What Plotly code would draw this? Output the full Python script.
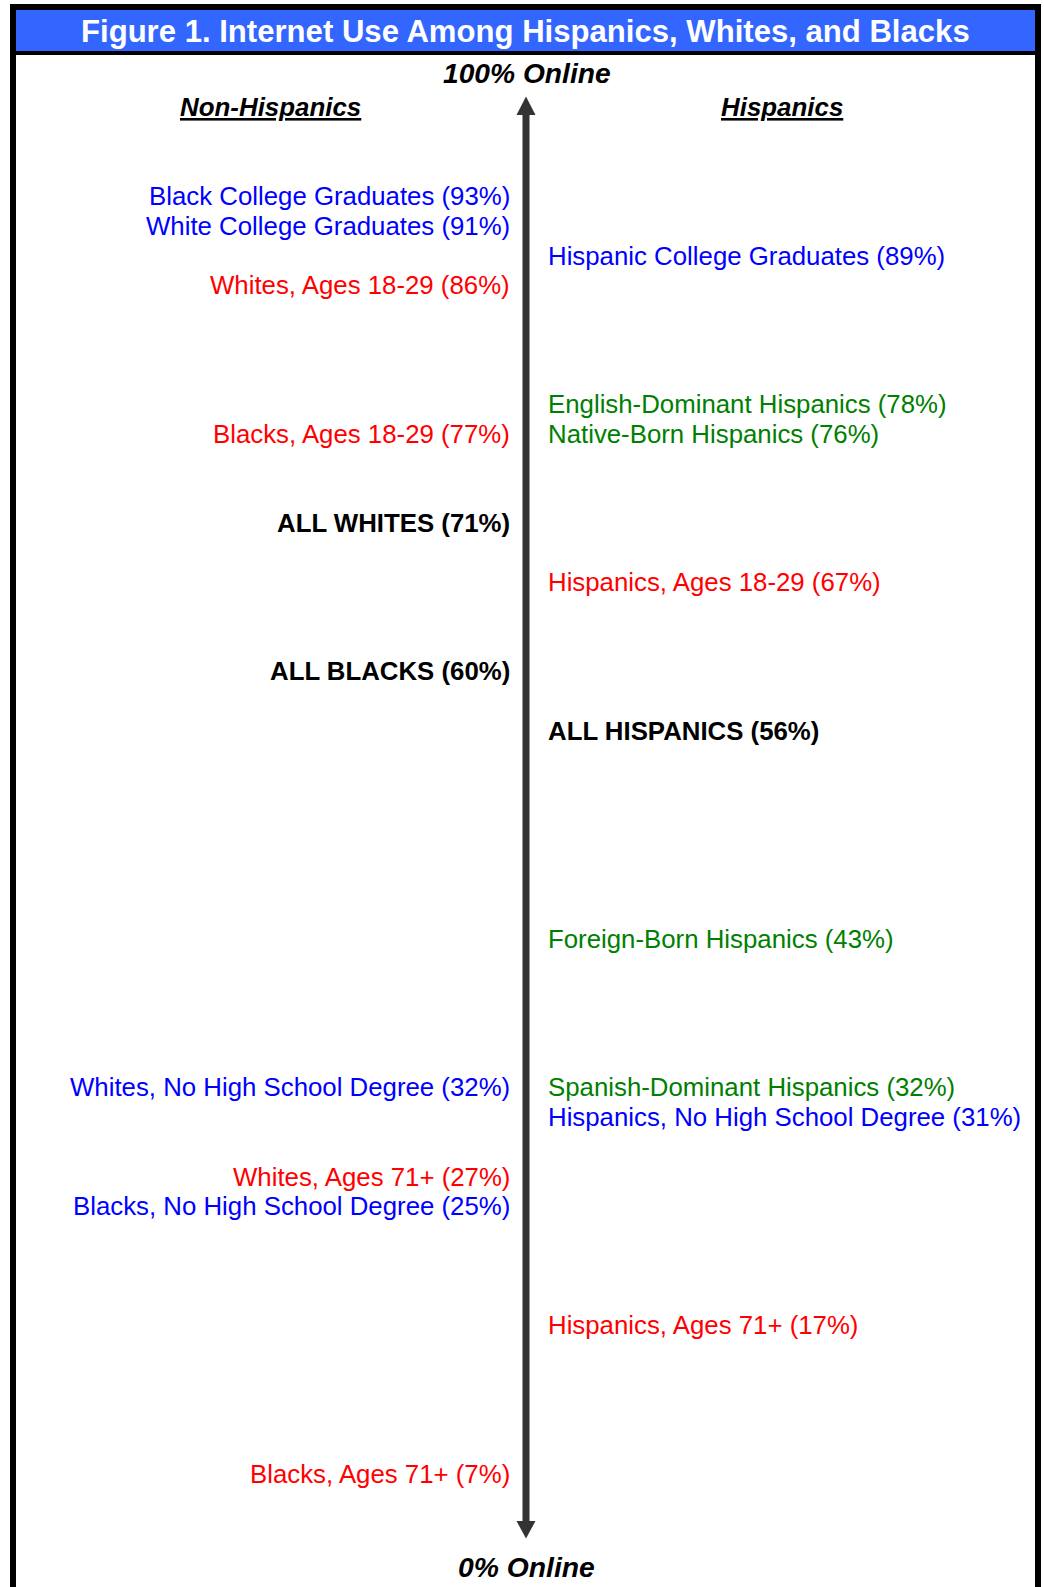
import plotly.graph_objects as go

W, H = 1044, 1587

# ---------------- data ----------------
nonhisp_labels = [
    "Black College Graduates", "White College Graduates", "Whites, Ages 18-29",
    "Blacks, Ages 18-29", "ALL WHITES", "ALL BLACKS",
    "Whites, No High School Degree", "Whites, Ages 71+",
    "Blacks, No High School Degree", "Blacks, Ages 71+",
]
nonhisp_values = [93, 91, 86, 77, 71, 60, 32, 27, 25, 7]
nonhisp_groups = ["education", "education", "age", "age", "all", "all",
                  "education", "age", "education", "age"]

hisp_labels = [
    "Hispanic College Graduates", "English-Dominant Hispanics",
    "Native-Born Hispanics", "Hispanics, Ages 18-29", "ALL HISPANICS",
    "Foreign-Born Hispanics", "Spanish-Dominant Hispanics",
    "Hispanics, No High School Degree", "Hispanics, Ages 71+",
]
hisp_values = [89, 78, 76, 67, 56, 43, 32, 31, 17]
hisp_groups = ["education", "language", "nativity", "age", "all",
               "nativity", "language", "education", "age"]

# ---------------- style ----------------
FONT = "Liberation Sans, Arial, Helvetica, sans-serif"
GROUP_COLORS = {"education": "#0000FF", "age": "#FF0000", "all": "#000000",
                "language": "#008000", "nativity": "#008000"}
LABEL_SIZE = 25.8
# small upward nudges (pixels) used in the original layout to separate labels
LABEL_YSHIFT = {"Whites, Ages 18-29": 15, "ALL BLACKS": 15,
                "English-Dominant Hispanics": 15, "Native-Born Hispanics": 15,
                "ALL HISPANICS": 15, "Spanish-Dominant Hispanics": 15,
                "Whites, No High School Degree": 15}

Y_RANGE = [-0.614, 106.206]


def px(x):
    return x / W


def py(y):
    return 1 - y / H


fig = go.Figure()
# invisible anchor trace so the value axis exists
fig.add_trace(go.Scatter(x=[0.5] * (len(nonhisp_values) + len(hisp_values)),
                         y=nonhisp_values + hisp_values, mode="markers",
                         marker=dict(opacity=0), hoverinfo="skip",
                         showlegend=False))

shapes = []
# frame
shapes.append(dict(type="rect", xref="paper", yref="paper",
                   x0=px(10), x1=px(1041), y0=py(1650), y1=py(4),
                   fillcolor="#000000", line=dict(width=0), layer="below"))
shapes.append(dict(type="rect", xref="paper", yref="paper",
                   x0=px(16), x1=px(1035), y0=py(51), y1=py(10),
                   fillcolor="#3366FF", line=dict(width=0), layer="below"))
shapes.append(dict(type="rect", xref="paper", yref="paper",
                   x0=px(16), x1=px(1035), y0=py(1650), y1=py(55),
                   fillcolor="#FFFFFF", line=dict(width=0), layer="below"))
# arrow
AC = "#333333"
ax = 526
shapes.append(dict(type="rect", xref="paper", yref="paper",
                   x0=px(ax - 3.5), x1=px(ax + 3.5), y0=py(1522), y1=py(114),
                   fillcolor=AC, line=dict(width=0), layer="above"))
shapes.append(dict(type="path", xref="paper", yref="paper",
                   path=f"M {px(ax)},{py(96.5)} L {px(ax - 9.5)},{py(115)} L {px(ax + 9.5)},{py(115)} Z",
                   fillcolor=AC, line=dict(width=0), layer="above"))
shapes.append(dict(type="path", xref="paper", yref="paper",
                   path=f"M {px(ax)},{py(1538.5)} L {px(ax - 9.5)},{py(1521)} L {px(ax + 9.5)},{py(1521)} Z",
                   fillcolor=AC, line=dict(width=0), layer="above"))

ann = []
ann.append(dict(text="<b>Figure 1. Internet Use Among Hispanics, Whites, and Blacks</b>",
                xref="paper", yref="paper", x=px(525), y=py(31),
                xanchor="center", yanchor="middle", showarrow=False,
                font=dict(family=FONT, size=31.1, color="#FFFFFF")))
ann.append(dict(text="<b><i>100% Online</i></b>", xref="paper", yref="paper",
                x=px(527), y=py(73), xanchor="center", yanchor="middle",
                showarrow=False, font=dict(family=FONT, size=28.2, color="#000000")))
ann.append(dict(text="<b><i>0% Online</i></b>", xref="paper", yref="paper",
                x=px(526), y=py(1567), xanchor="center", yanchor="middle",
                showarrow=False, font=dict(family=FONT, size=28.3, color="#000000")))
ann.append(dict(text="<b><i><u>Non-Hispanics</u></i></b>", xref="paper", yref="paper",
                x=px(270), y=py(107), xanchor="center", yanchor="middle",
                showarrow=False, font=dict(family=FONT, size=25.9, color="#000000")))
ann.append(dict(text="<b><i><u>Hispanics</u></i></b>", xref="paper", yref="paper",
                x=px(782), y=py(107), xanchor="center", yanchor="middle",
                showarrow=False, font=dict(family=FONT, size=25.9, color="#000000")))


def add_labels(labels, values, groups, xpos, anchor):
    for lab, val, grp in zip(labels, values, groups):
        txt = f"{lab} ({val}%)"
        if grp == "all":
            txt = f"<b>{txt}</b>"
        ann.append(dict(text=txt, xref="paper", yref="y", x=px(xpos), y=val,
                        xanchor=anchor, yanchor="middle", showarrow=False,
                        yshift=LABEL_YSHIFT.get(lab, 0), borderpad=0,
                        font=dict(family=FONT, size=LABEL_SIZE,
                                  color=GROUP_COLORS[grp])))


add_labels(nonhisp_labels, nonhisp_values, nonhisp_groups, 511, "right")
add_labels(hisp_labels, hisp_values, hisp_groups, 547, "left")

fig.update_layout(
    width=W, height=H,
    margin=dict(l=0, r=0, t=0, b=0, pad=0),
    paper_bgcolor="#FFFFFF", plot_bgcolor="rgba(0,0,0,0)",
    xaxis=dict(range=[0, 1], visible=False, fixedrange=True),
    yaxis=dict(range=Y_RANGE, visible=False, fixedrange=True),
    shapes=shapes, annotations=ann, showlegend=False,
)

fig.write_html(
    "out.html",
    config={"displayModeBar": False},
    post_script="document.body.style.margin='0';document.body.style.padding='0';"
                "document.body.style.overflow='hidden';",
)
